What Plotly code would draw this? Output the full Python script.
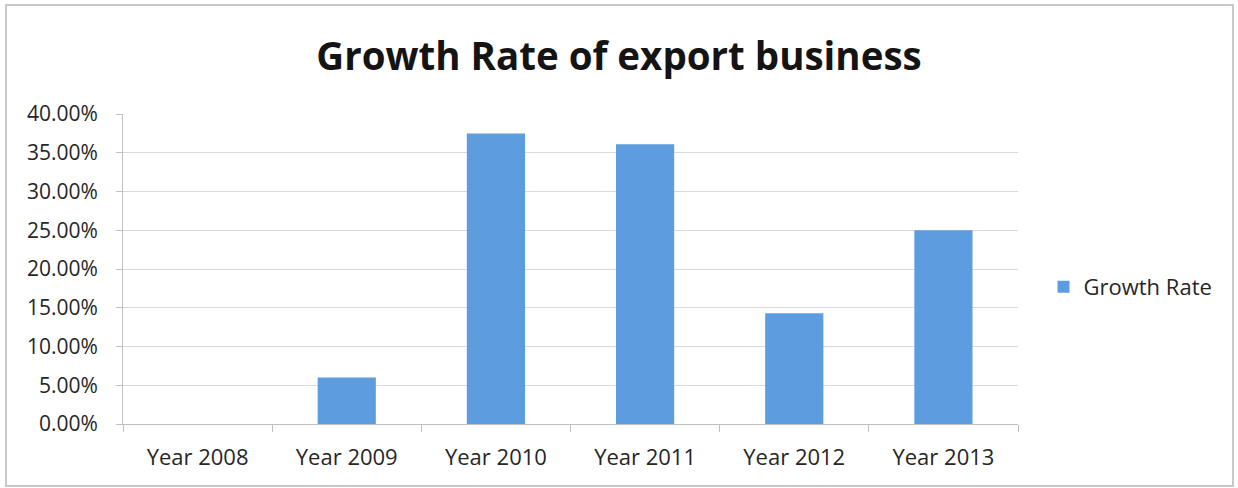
import plotly.graph_objects as go

# Export growth data
years = ["Year 2008", "Year 2009", "Year 2010", "Year 2011", "Year 2012", "Year 2013"]
growth_rate = [0.0, 0.06, 0.375, 0.361, 0.143, 0.25]
y_ticks = [0.0, 0.05, 0.10, 0.15, 0.20, 0.25, 0.30, 0.35, 0.40]

BAR_COLOR = "#5E9CE0"
FONT = "Open Sans"
TEXT_COLOR = "#262626"

fig = go.Figure()
fig.add_trace(go.Bar(
    x=years,
    y=growth_rate,
    name="Growth Rate",
    marker=dict(color=BAR_COLOR, line=dict(width=0)),
    width=0.39,
))

# Chart frame drawn in paper coordinates around the whole figure
fig.add_shape(
    type="rect", xref="paper", yref="paper",
    x0=-0.1307, x1=1.2402, y0=-0.2, y1=1.3516,
    line=dict(color="#c8c8c8", width=2), fillcolor="rgba(0,0,0,0)",
    layer="below",
)

fig.update_layout(
    width=1238, height=488,
    margin=dict(l=123, r=220, t=114, b=64),
    paper_bgcolor="white", plot_bgcolor="white",
    font=dict(family=FONT, size=21, color=TEXT_COLOR),
    title=dict(
        text="<b>Growth Rate of export business</b>",
        x=0.5, xanchor="center", xref="container",
        y=0.885, yanchor="middle", yref="container",
        font=dict(family=FONT, size=38.5, color="#141414"),
    ),
    showlegend=True,
    legend=dict(
        x=1.0285, y=0.442, xanchor="left", yanchor="middle",
        font=dict(family=FONT, size=22, color=TEXT_COLOR),
        bgcolor="rgba(0,0,0,0)",
    ),
    bargap=0.6,
    xaxis=dict(
        type="category",
        showgrid=False,
        showline=True, linecolor="#c0c0c0", linewidth=1,
        ticks="outside", tickson="boundaries", ticklen=7, tickcolor="#c0c0c0",
        tickfont=dict(family=FONT, size=22, color=TEXT_COLOR),
        ticklabelstandoff=14,
    ),
    yaxis=dict(
        range=[0, 0.40],
        tickvals=y_ticks,
        tickformat=".2%",
        showgrid=True, gridcolor="#d9d9d9", gridwidth=1,
        showline=True, linecolor="#c0c0c0", linewidth=1,
        ticks="outside", ticklen=6, tickcolor="#c0c0c0",
        tickfont=dict(family=FONT, size=21, color=TEXT_COLOR),
        ticklabelstandoff=14,
        zeroline=False,
    ),
)

fig.write_html("out.html")
